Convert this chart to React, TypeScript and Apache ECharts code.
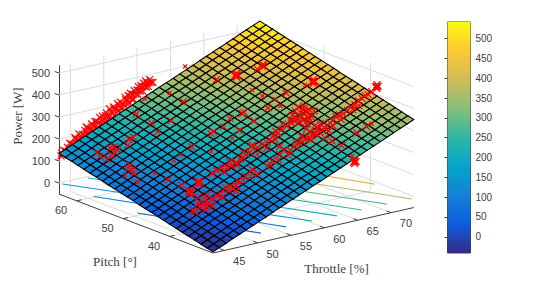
import React, { useEffect, useRef } from "react";
import * as echarts from "echarts";

const pitchTicks = [40, 50, 60];
const throttleTicks = [45, 50, 55, 60, 65, 70];
const powerTicks = [0, 100, 200, 300, 400, 500];
const colorbarTicks = [0, 50, 100, 150, 200, 250, 300, 350, 400, 450, 500];
const parula = ["#352a87", "#0f5cdd", "#1481d6", "#06a4ca", "#2eb7a4", "#87bf77", "#d1bb59", "#fec832", "#f9fb0e"];

const T0 = 43.3, T1 = 73.4, P0 = 30.7, P1 = 63.8, Z0 = -50, Z1 = 533;
const C0 = -41, C1 = 542;

const throttleMesh = [43.3,44.3,45.3,46.3,47.3,48.3,49.3,50.3,51.3,52.3,53.3,54.3,55.3,56.3,57.3,58.3,59.4,60.4,61.4,62.4,63.4,64.4,65.4,66.4,67.4,68.4,69.4,70.4,71.4,72.4,73.4];
const pitchMesh = [30.7,32.0,33.3,34.7,36.0,37.3,38.6,40.0,41.3,42.6,43.9,45.3,46.6,47.9,49.2,50.6,51.9,53.2,54.5,55.8,57.2,58.5,59.8,61.1,62.5,63.8];
const surfacePower = [
  [-45,-32,-19,-5,8,21,34,47,60,74,87,100,113,126,139,153,166,179,192,205,218,232,245,258,271,284,297,311,324,337,350],
  [-38,-25,-12,2,15,28,41,54,67,81,94,107,120,133,146,160,173,186,199,212,225,239,252,265,278,291,304,318,331,344,357],
  [-31,-18,-5,9,22,35,48,61,74,88,101,114,127,140,153,167,180,193,206,219,232,246,259,272,285,298,311,325,338,351,364],
  [-23,-10,3,17,30,43,56,69,82,96,109,122,135,148,161,175,188,201,214,227,240,254,267,280,293,306,319,333,346,359,372],
  [-16,-3,10,24,37,50,63,76,89,103,116,129,142,155,168,182,195,208,221,234,247,261,274,287,300,313,326,340,353,366,379],
  [-9,4,17,31,44,57,70,83,96,110,123,136,149,162,175,189,202,215,228,241,254,268,281,294,307,320,333,347,360,373,386],
  [-2,11,24,38,51,64,77,90,103,117,130,143,156,169,182,196,209,222,235,248,261,275,288,301,314,327,340,354,367,380,393],
  [5,18,31,45,58,71,84,97,110,124,137,150,163,176,189,203,216,229,242,255,268,282,295,308,321,334,347,361,374,387,400],
  [13,26,39,53,66,79,92,105,118,132,145,158,171,184,197,211,224,237,250,263,276,290,303,316,329,342,355,369,382,395,408],
  [20,33,46,60,73,86,99,112,125,139,152,165,178,191,204,218,231,244,257,270,283,297,310,323,336,349,362,376,389,402,415],
  [27,40,53,67,80,93,106,119,132,146,159,172,185,198,211,225,238,251,264,277,290,304,317,330,343,356,369,383,396,409,422],
  [34,47,60,74,87,100,113,126,139,153,166,179,192,205,218,232,245,258,271,284,297,311,324,337,350,363,376,390,403,416,429],
  [41,54,67,81,94,107,120,133,146,160,173,186,199,212,225,239,252,265,278,291,304,318,331,344,357,370,383,397,410,423,436],
  [49,62,75,89,102,115,128,141,154,168,181,194,207,220,233,247,260,273,286,299,312,326,339,352,365,378,391,405,418,431,444],
  [56,69,82,96,109,122,135,148,161,175,188,201,214,227,240,254,267,280,293,306,319,333,346,359,372,385,398,412,425,438,451],
  [63,76,89,103,116,129,142,155,168,182,195,208,221,234,247,261,274,287,300,313,326,340,353,366,379,392,405,419,432,445,458],
  [70,83,96,110,123,136,149,162,175,189,202,215,228,241,254,268,281,294,307,320,333,347,360,373,386,399,412,426,439,452,465],
  [77,90,103,117,130,143,156,169,182,196,209,222,235,248,261,275,288,301,314,327,340,354,367,380,393,406,419,433,446,459,472],
  [85,98,111,125,138,151,164,177,190,204,217,230,243,256,269,283,296,309,322,335,348,362,375,388,401,414,427,441,454,467,480],
  [92,105,118,132,145,158,171,184,197,211,224,237,250,263,276,290,303,316,329,342,355,369,382,395,408,421,434,448,461,474,487],
  [99,112,125,139,152,165,178,191,204,218,231,244,257,270,283,297,310,323,336,349,362,376,389,402,415,428,441,455,468,481,494],
  [106,119,132,146,159,172,185,198,211,225,238,251,264,277,290,304,317,330,343,356,369,383,396,409,422,435,448,462,475,488,501],
  [113,126,139,153,166,179,192,205,218,232,245,258,271,284,297,311,324,337,350,363,376,390,403,416,429,442,455,469,482,495,508],
  [121,134,147,161,174,187,200,213,226,240,253,266,279,292,305,319,332,345,358,371,384,398,411,424,437,450,463,477,490,503,516],
  [128,141,154,168,181,194,207,220,233,247,260,273,286,299,312,326,339,352,365,378,391,405,418,431,444,457,470,484,497,510,523],
  [135,148,161,175,188,201,214,227,240,254,267,280,293,306,319,333,346,359,372,385,398,412,425,438,451,464,477,491,504,517,530],
];

// level, throttle start, pitch start, throttle end, pitch end
const contours = [
  [50, 43.3, 47.0, 50.0, 30.0],
  [100, 43.3, 56.3, 53.9, 30.2],
  [150, 43.4, 63.2, 57.8, 30.2],
  [200, 47.3, 63.3, 61.4, 30.0],
  [250, 51.0, 63.5, 65.2, 30.1],
  [300, 55.0, 63.5, 69.0, 30.2],
  [350, 59.0, 63.5, 72.6, 30.0],
  [400, 63.0, 63.5, 72.8, 38.2],
];

const backPoints = [
  [43.3,127],[43.4,139],[43.6,128],[43.7,149],[44.0,145],[44.2,138],[44.3,159],[44.5,148],[44.8,171],[44.9,151],[45.1,167],[45.2,151],[45.5,188],[45.7,168],[45.9,184],[46.0,164],[46.3,187],[46.5,203],[46.6,179],[46.8,199],[47.1,232],[47.2,198],[47.4,219],[47.5,189],[47.8,217],[48.0,206],[48.2,231],[48.3,202],[48.5,225],[48.7,246],[48.8,217],[49.0,238],[49.3,229],[49.4,250],[49.6,225],[49.7,246],[50.0,264],[50.2,240],[50.3,260],[50.5,254],[50.8,273],[51.0,248],[51.1,268],[51.3,285],[51.6,263],[51.7,283],[51.9,272],[52.0,297],[52.3,284],[52.5,300],[52.6,280],[52.7,297],[53.0,315],[53.2,295],[53.3,311],[53.5,296],[53.8,324],[53.9,312],[54.1,333],[54.2,308],[54.5,331],[54.7,348],[54.8,328],[55.0,344],[55.2,340],[55.4,356],[55.6,336],[55.8,357],[56.1,352],[56.2,368],[56.4,353],[56.5,369],[56.8,369],[57.1,366],
  [44.6,176],[45.4,196],[46.0,208],[46.9,218],[47.3,226],[47.9,240],[48.4,247],[49.1,262],[49.5,265],[50.1,276],[50.6,290],[51.2,295],[51.8,306],[52.2,310],[52.9,328],[53.4,332],[53.7,340],[54.3,348],[54.9,362],[55.3,365],[55.7,372],[56.0,380],[56.6,382],
];
const backPitch = 63.4;

const frontPoints = [
  [73.5,39.9,402],[72.9,39.8,393],[72.6,40.0,389],[72.0,39.8,381],[71.5,39.9,374],[70.8,39.6,364],[70.3,39.7,357],[69.6,39.5,346],[68.9,39.4,337],[68.5,39.6,333],[68.0,39.7,327],[67.3,39.4,316],[66.9,39.4,310],[66.3,39.2,301],[65.9,39.1,296],[65.5,39.1,290],[65.1,39.0,284],[65.3,39.7,291],[64.6,39.1,278],[64.6,39.4,279],[64.1,39.2,271],[64.4,40.0,280],[63.6,39.3,265],[63.2,39.4,261],[62.7,39.3,253],[62.3,39.5,249],[61.6,39.3,240],
  [60.8,39.2,228],[59.6,39.7,215],[58.2,39.4,195],[55.8,38.9,160],[54.9,39.3,149],[53.9,39.4,137],[52.8,39.3,122],[52.2,39.1,114],[52.2,39.8,117],[51.6,39.3,107],[50.7,39.7,96],[50.2,39.7,90],[49.4,39.6,78],[48.8,39.5,70],[48.2,39.7,63],[47.6,39.7,57],[48.9,40.3,76],[46.8,40.0,47],[48.0,40.6,66],[46.7,39.6,42],[48.3,39.2,62],
  [66.8,43.5,331],[66.4,43.7,327],[66.0,43.7,321],[65.4,43.5,313],[66.0,42.7,316],[65.0,43.5,307],[65.2,42.7,306],[65.9,44.4,325],[66.6,44.5,334],[65.0,44.1,311],[64.5,43.5,301],[65.2,42.1,303],[64.0,43.5,295],[63.3,43.5,286],[62.6,43.6,276],[61.9,43.4,265],[61.2,43.4,256],[61.9,43.9,269],[60.5,43.2,247],[60.0,43.0,239],[59.4,43.2,232],[59.3,42.1,224],[58.7,43.2,223],[57.6,43.3,208],[57.1,43.4,201],[56.5,43.2,193],[56.1,43.2,187],[55.4,43.1,178],[55.0,43.9,178],[54.1,43.3,162],[53.8,43.8,160],[53.1,43.9,151],[52.4,43.9,142],
  [67.7,34.8,296],[69.1,34.7,315],[67.1,49.1,365],[67.7,56.2,412],[63.5,58.9,372],[58.5,58.9,305],[53.6,62.0,258],[53.7,58.9,242],[55.4,57.1,254],[53.1,56.7,222],[50.8,58.6,200],[50.2,58.6,194],[56.9,50.6,238],[57.3,50.7,244],[58.6,50.4,260],[60.0,51.0,283],[61.5,50.5,299],[61.8,50.5,303],[61.5,48.0,285],[59.3,48.0,257],[64.0,48.6,322],[47.7,58.1,157],[48.1,58.1,163],[47.1,57.9,148],[46.3,57.8,137],[47.8,59.3,165],[48.2,59.0,169],[46.4,60.0,150],[46.1,59.0,141],[49.4,57.8,179],[46.9,53.3,120],[47.3,54.3,131],[46.7,52.6,113],[46.8,54.0,123],[48.4,47.7,110],[48.8,45.4,103],[53.9,50.5,199],[62.0,39.5,246],[64.9,36.1,267],[65.1,34.3,259],[60.4,40.9,234],[58.6,44.1,226],[57.7,39.1,186],
  [74.5,40.2,416],[74.7,40.2,416],[74.3,40.2,416],[74.5,40.2,424],[74.5,40.2,408],
  [70.4,48.0,403],[70.6,48.0,403],[70.2,48.0,403],[70.4,48.0,411],[70.4,48.0,395],
  [65.5,57.5,389],[65.7,57.5,389],[65.3,57.5,389],[65.5,57.5,397],[65.5,57.5,381],
  [68.4,56.0,422],[68.6,56.0,422],[68.4,56.0,430],
  [64.2,30.2,225],[64.4,30.2,225],[64.0,30.2,225],[64.2,30.2,233],[64.2,30.2,217],
  [50.3,43.8,115],[50.5,43.8,115],[50.1,43.8,115],[50.3,43.8,123],[50.3,43.8,107],
  [48.6,43.3,89],[48.8,43.3,89],[48.4,43.3,89],[48.6,43.3,96],[48.6,43.3,82],
  [65.7,45.2,325],[66.2,42.4,317],[64.7,42.9,300],[65.8,42.3,311],[65.0,44.8,314],[66.9,45.0,340],[67.1,43.1,332],[66.4,45.5,336],[65.1,41.7,298],[64.3,44.2,301],
  [64.5,41.0,286],[64.8,37.5,271],[63.6,38.7,261],[65.9,38.2,290],[66.1,40.3,304],[63.3,40.4,266],[65.5,40.6,296],[66.8,38.6,303],[68.1,38.7,321],[70.1,39.1,350],[71.0,39.1,362],
  [55.8,40.2,167],[54.5,39.8,148],[53.4,39.8,133],[51.8,40.2,113],[52.1,38.3,108],[50.4,38.9,88],[48.7,38.6,64],[47.7,38.7,52],[48.7,41.6,80],[49.6,41.0,89],[57.3,39.0,181],[60.4,39.9,226],[60.1,38.6,216],[58.8,38.9,200],
  [57.9,42.1,206],[58.4,44.1,223],[57.1,44.0,205],[55.1,42.5,171],[54.7,43.1,169],[53.5,42.9,151],[60.9,42.6,249],[63.2,44.3,289],
];
const partialPoints = [
  [65.0,51.2,349],[65.2,47.6,331],[64.9,53.3,359],[65.6,49.3,346],[69.4,48.3,393],[69.8,34.6,324],[57.9,47.5,235],[45.9,50.7,93],[45.8,53.2,105],[48.2,50.2,122],[52.2,50.5,175],[51.0,50.2,158],[54.8,47.6,195],[64.7,31.5,238],[62.7,64.5,391],[58.5,61.8,322],[56.0,63.6,298],
];

const project = (t: number, p: number, z: number) => [
  213 + (t - T0) * 6.67 - (p - P0) * 4.65,
  253 - (t - T0) * 1.51 - (p - P0) * 1.78 - (z - Z0) * 0.22,
];

function hex(c: string) {
  return [1, 3, 5].map((i) => parseInt(c.slice(i, i + 2), 16));
}
function colorOf(v: number) {
  const f = Math.max(0, Math.min(0.9999, (v - C0) / (C1 - C0))) * (parula.length - 1);
  const i = Math.floor(f);
  const a = hex(parula[i]), b = hex(parula[i + 1]);
  const m = a.map((x, k) => Math.round(x + (b[k] - x) * (f - i)));
  return `rgb(${m[0]},${m[1]},${m[2]})`;
}

const GRID = "#dcdcdc";
const AXIS = "#404040";
const TEXT = "#404040";

function buildSegments() {
  const segs: any[] = [];
  const add = (a: number[], b: number[], stroke: string, w = 1) => segs.push({ a, b, stroke, w });
  powerTicks.forEach((z) => {
    add(project(T0, P1, z), project(T1, P1, z), GRID);
    add(project(T1, P1, z), project(T1, P0, z), GRID);
  });
  throttleTicks.forEach((t) => {
    add(project(t, P0, Z0), project(t, P1, Z0), GRID);
    add(project(t, P1, Z0), project(t, P1, Z1), GRID);
  });
  pitchTicks.forEach((p) => {
    add(project(T0, p, Z0), project(T1, p, Z0), GRID);
    add(project(T1, p, Z0), project(T1, p, Z1), GRID);
  });
  contours.forEach(([l, t1, p1, t2, p2]) => add(project(t1, p1, 0), project(t2, p2, 0), colorOf(l), 1.1));
  return segs;
}

function buildAxisSegments() {
  const segs: any[] = [];
  const add = (a: number[], b: number[], stroke: string, w = 1) => segs.push({ a, b, stroke, w });
  add(project(T0, P1, Z0), project(T0, P0, Z0), AXIS);
  add(project(T0, P0, Z0), project(T1, P0, Z0), AXIS);
  powerTicks.forEach((z) => {
    const a = project(T0, P1, z);
    add(a, [a[0] - 4.5, a[1] - 1.7], AXIS);
  });
  pitchTicks.forEach((p) => {
    const a = project(T0, p, Z0);
    add(a, [a[0] + 4.7, a[1] - 1.1], AXIS);
  });
  throttleTicks.forEach((t) => {
    const a = project(t, P0, Z0);
    add(a, [a[0] - 4.5, a[1] - 1.7], AXIS);
  });
  return segs;
}

const segRender = (segs: any[]) => (_: any, api: any) => {
  const s = segs[api.value(0)];
  const a = api.coord(s.a), b = api.coord(s.b);
  return { type: "line", shape: { x1: a[0], y1: a[1], x2: b[0], y2: b[1] }, style: { stroke: s.stroke, lineWidth: s.w, fill: null }, silent: true };
};

const tickLabels = [
  ...pitchTicks.map((p) => { const a = project(T0, p, Z0); return { x: a[0] - 15.7, y: a[1] + 9.4, text: String(p) }; }),
  ...throttleTicks.map((t) => { const a = project(t, P0, Z0); return { x: a[0] + 14.9, y: a[1] + 10.8, text: String(t) }; }),
];

const cells: number[][] = [];
pitchMesh.slice(1).forEach((_, j) => throttleMesh.slice(1).forEach((_, i) => cells.push([i, j])));

const CROSS = "path://M0 0L10 10M10 0L0 10";

export default function App() {
  const ref = useRef<HTMLDivElement>(null);
  useEffect(() => {
    document.body.style.margin = "0";
    const chart = echarts.init(ref.current!, null, { renderer: "svg" });
    const segs = buildSegments();
    const axisSegs = buildAxisSegments();
    const scatterStyle = { color: "rgba(0,0,0,0)", borderColor: "#ff0000", borderWidth: 1.2, opacity: 1 };
    chart.setOption({
      animation: false,
      grid: [
        { left: 0, top: 0, width: 536, height: 284, show: false },
        { left: 59, top: 65.7, width: 1, height: 128.3, show: false },
        { left: 447.5, top: 22, width: 23, height: 231, show: true, borderColor: AXIS, borderWidth: 1, backgroundColor: "transparent" },
      ],
      xAxis: [
        { gridIndex: 0, type: "value", min: 0, max: 536, show: false },
        { gridIndex: 1, type: "value", min: 0, max: 1, show: false },
        { gridIndex: 2, type: "value", min: 0, max: 1, show: false },
      ],
      yAxis: [
        { gridIndex: 0, type: "value", min: 0, max: 284, inverse: true, show: false },
        {
          gridIndex: 1, type: "value", min: Z0, max: Z1, position: "left",
          axisLine: { show: true, onZero: false, lineStyle: { color: AXIS, width: 1 } },
          axisTick: { show: false }, splitLine: { show: false },
          axisLabel: { show: true, customValues: powerTicks, margin: 9, color: TEXT, fontSize: 11, fontFamily: "Liberation Sans" },
        },
        {
          gridIndex: 2, type: "value", min: C0, max: C1, position: "right",
          axisLine: { show: false }, splitLine: { show: false },
          axisTick: { show: true, inside: true, length: 3, customValues: colorbarTicks, lineStyle: { color: AXIS, width: 1 } },
          axisLabel: { show: true, customValues: colorbarTicks, margin: 5, color: TEXT, fontSize: 10, fontFamily: "Liberation Sans" },
        },
      ],
      series: [
        {
          type: "custom", coordinateSystem: "cartesian2d", xAxisIndex: 2, yAxisIndex: 2, z: 1, silent: true, clip: false,
          data: [[0]],
          renderItem: (_: any, api: any) => {
            const a = api.coord([0, C1]), b = api.coord([1, C0]);
            return {
              type: "rect", shape: { x: a[0], y: a[1], width: b[0] - a[0], height: b[1] - a[1] },
              style: { fill: new echarts.graphic.LinearGradient(0, 1, 0, 0, parula.map((color, i) => ({ offset: i / (parula.length - 1), color }))) },
            };
          },
        },
        { type: "custom", xAxisIndex: 0, yAxisIndex: 0, z: 2, silent: true, clip: false, data: segs.map((_, i) => [i]), renderItem: segRender(segs) },
        { type: "custom", xAxisIndex: 0, yAxisIndex: 0, z: 3, silent: true, clip: false, data: axisSegs.map((_, i) => [i]), renderItem: segRender(axisSegs) },
        {
          type: "scatter", xAxisIndex: 0, yAxisIndex: 0, z: 4, silent: true, symbol: CROSS, symbolSize: 7, clip: false,
          itemStyle: scatterStyle,
          data: backPoints.map(([t, z]) => project(t, backPitch, z)),
        },
        {
          type: "custom", xAxisIndex: 0, yAxisIndex: 0, z: 5, silent: true, clip: false, data: cells,
          renderItem: (_: any, api: any) => {
            const i = api.value(0), j = api.value(1);
            const corners = [[i, j], [i + 1, j], [i + 1, j + 1], [i, j + 1]];
            const pts = corners.map(([a, b]) => api.coord(project(throttleMesh[a], pitchMesh[b], surfacePower[b][a])));
            const mean = corners.reduce((s, [a, b]) => s + surfacePower[b][a], 0) / 4;
            return { type: "polygon", shape: { points: pts }, style: { fill: colorOf(mean), stroke: "#000000", lineWidth: 1.1 } };
          },
        },
        {
          type: "scatter", xAxisIndex: 0, yAxisIndex: 0, z: 6, silent: true, symbol: CROSS, symbolSize: 7, clip: false,
          itemStyle: scatterStyle,
          data: frontPoints.map(([t, p, z]) => project(t, p, z)),
        },
        {
          type: "scatter", xAxisIndex: 0, yAxisIndex: 0, z: 6, silent: true, symbol: CROSS, symbolSize: 4, clip: false,
          itemStyle: scatterStyle,
          data: partialPoints.map(([t, p, z]) => project(t, p, z)),
        },
        {
          type: "custom", xAxisIndex: 0, yAxisIndex: 0, z: 7, silent: true, clip: false, data: tickLabels.map((_, i) => [i]),
          renderItem: (_: any, api: any) => {
            const l = tickLabels[api.value(0)];
            const c = api.coord([l.x, l.y]);
            return { type: "text", x: c[0], y: c[1], style: { text: l.text, fill: TEXT, fontSize: 11, fontFamily: "Liberation Sans", align: "center", verticalAlign: "middle" } };
          },
        },
      ],
      graphic: [
        { type: "text", x: 17, y: 116, rotation: Math.PI / 2, style: { text: "Power [W]", fill: "#404040", fontSize: 13, fontFamily: "Liberation Serif", align: "center", verticalAlign: "middle" } },
        { type: "text", x: 115, y: 261, style: { text: "Pitch [°]", fill: "#404040", fontSize: 13, fontFamily: "Liberation Serif", align: "center", verticalAlign: "middle" } },
        { type: "text", x: 336.5, y: 268.5, style: { text: "Throttle [%]", fill: "#404040", fontSize: 13, fontFamily: "Liberation Serif", align: "center", verticalAlign: "middle" } },
      ],
    });
    return () => chart.dispose();
  }, []);
  return <div ref={ref} style={{ position: "absolute", left: 0, top: 0, width: 536, height: 284 }} />;
}
